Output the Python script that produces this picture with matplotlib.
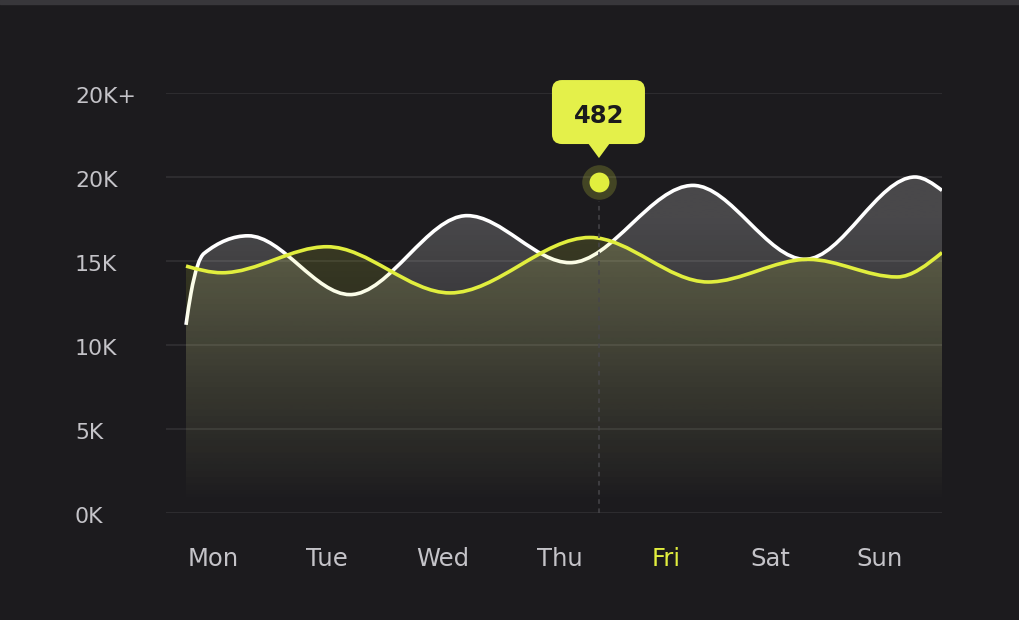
import numpy as np
import matplotlib
matplotlib.use('Agg')
import matplotlib.pyplot as plt
from matplotlib.path import Path
from matplotlib.patches import PathPatch, FancyBboxPatch, Polygon, Rectangle
import matplotlib.transforms as mtransforms

# ---------------- data ----------------
days = ['Mon', 'Tue', 'Wed', 'Thu', 'Fri', 'Sat', 'Sun']
day_pos = [0, 1.025, 2.069, 3.122, 4.076, 5.011, 6.0]
highlight_day = 'Fri'

white_x = [-0.243, -0.198, -0.081, 0.315, 1.232, 2.285, 3.211, 4.318,
           5.325, 6.315, 6.558]
white_y = [11200, 13100, 15450, 16500, 13000, 17700, 14900, 19500,
           15100, 20000, 19200]

yellow_x = [-0.243, 0.081, 1.025, 2.132, 3.391, 4.453, 5.352, 6.153, 6.558]
yellow_y = [14700, 14300, 15850, 13100, 16400, 13750, 15100, 14050, 15500]

y_ticks = [0, 5000, 10000, 15000, 20000, 25000]
y_labels = ['0K', '5K', '10K', '15K', '20K', '20K+']

tip_x = 3.472
tip_y = 19700
tip_text = '482'

# ---------------- style ----------------
BG = '#1c1b1e'
YELLOW = '#e1ee3e'
TIP_YELLOW = '#e4f04a'
LABEL = '#c4c3c8'
plt.rcParams['font.family'] = ['DejaVu Sans']

W, H, DPI = 1020, 620, 100
fig = plt.figure(figsize=(W / DPI, H / DPI), dpi=DPI)
fig.patch.set_facecolor(BG)
fig.add_artist(Rectangle((0, 1 - 4 / H), 1, 4 / H, transform=fig.transFigure,
                         color='#38373b', zorder=0))

ax_l, ax_r, ax_t, ax_b = 166, 942, 93, 513
ax = fig.add_axes([ax_l / W, (H - ax_b) / H, (ax_r - ax_l) / W, (ax_b - ax_t) / H])
ax.set_facecolor('none')
for s in ax.spines.values():
    s.set_visible(False)
ax.set_xticks([])
ax.set_yticks([])
XMIN, XMAX = -0.423, 6.558
YMAX = 25000


def monotone_path(x, y):
    x = np.asarray(x, float)
    y = np.asarray(y, float)
    n = len(x)
    h = np.diff(x)
    s = np.diff(y) / h
    t = np.zeros(n)
    for i in range(1, n - 1):
        p = (s[i - 1] * h[i] + s[i] * h[i - 1]) / (h[i - 1] + h[i])
        t[i] = (np.sign(s[i - 1]) + np.sign(s[i])) * min(abs(s[i - 1]), abs(s[i]), 0.5 * abs(p))
    t[0] = (3 * s[0] - t[1]) / 2
    t[-1] = (3 * s[-1] - t[-2]) / 2
    verts = [(x[0], y[0])]
    codes = [Path.MOVETO]
    for i in range(n - 1):
        dx = h[i] / 3
        verts += [(x[i] + dx, y[i] + dx * t[i]), (x[i + 1] - dx, y[i + 1] - dx * t[i + 1]),
                  (x[i + 1], y[i + 1])]
        codes += [Path.CURVE4] * 3
    return verts, codes


def gradient_fill(verts, codes, rgb, amax, vtop, z):
    fverts = verts + [(verts[-1][0], 0), (verts[0][0], 0), (verts[0][0], 0)]
    fcodes = codes + [Path.LINETO, Path.LINETO, Path.CLOSEPOLY]
    patch = PathPatch(Path(fverts, fcodes), facecolor='none', edgecolor='none')
    ax.add_patch(patch)
    n = 400
    v = np.linspace(0, YMAX, n)
    a = amax * np.clip(v / vtop, 0, 1) ** 1.1
    img = np.zeros((n, 1, 4))
    img[..., :3] = matplotlib.colors.to_rgb(rgb)
    img[..., 0, 3] = a
    im = ax.imshow(img, extent=[XMIN, XMAX, 0, YMAX], origin='lower', aspect='auto',
                   zorder=z, interpolation='bilinear')
    im.set_clip_path(patch)


wv, wc = monotone_path(white_x, white_y)
yv, yc = monotone_path(yellow_x, yellow_y)

gradient_fill(wv, wc, '#ffffff', 0.20, 17500, 1)
for yt in y_ticks:
    ax.axhline(yt, color='#ffffff', alpha=0.10, lw=1.1, zorder=1.5)
ax.add_patch(PathPatch(Path(wv, wc), facecolor='none', edgecolor='#ffffff', lw=2.6,
                       capstyle='butt', zorder=2))
gradient_fill(yv, yc, YELLOW, 0.16, 17500, 3)
ax.add_patch(PathPatch(Path(yv, yc), facecolor='none', edgecolor=YELLOW, lw=2.6,
                       capstyle='butt', zorder=4))

ax.set_xlim(XMIN, XMAX)
ax.set_ylim(0, YMAX)

# dashed guide + highlighted point
ax.plot([tip_x, tip_x], [0, tip_y - 1100], color='#47464a', lw=1.1,
        dashes=(3, 3), zorder=5)
ax.scatter([tip_x], [tip_y], s=620, color=YELLOW, alpha=0.2, lw=0, zorder=6)
ax.scatter([tip_x], [tip_y], s=205, color=YELLOW, lw=0, zorder=7)

# tooltip in pixel offsets from the point
fig.canvas.draw()
px, py = ax.transData.transform((tip_x, tip_y))
ident = mtransforms.IdentityTransform()
box = FancyBboxPatch((px - 47, py + 38), 93, 64, boxstyle='round,pad=0,rounding_size=10',
                     facecolor=TIP_YELLOW, edgecolor='none', transform=ident, zorder=10)
fig.add_artist(box)
tri = Polygon([(px - 11, py + 39), (px + 11, py + 39), (px, py + 24)], closed=True,
              facecolor=TIP_YELLOW, edgecolor='none', transform=ident, zorder=10)
fig.add_artist(tri)
fig.text(px, py + 58.7, tip_text, transform=ident, ha='center', va='baseline',
         fontsize=17.5, fontweight='bold', color='#1b1a1d', zorder=11)

# y labels: left aligned
ytrans = mtransforms.blended_transform_factory(fig.transFigure, ax.transData) + \
    mtransforms.ScaledTranslation(0, -10 / DPI, fig.dpi_scale_trans)
for yt, lab in zip(y_ticks, y_labels):
    fig.text(75 / W, yt, lab, transform=ytrans, ha='left', va='baseline',
             fontsize=15.8, color=LABEL)

# x labels
xtrans = mtransforms.blended_transform_factory(ax.transData, ax.transAxes)
for pos, lab in zip(day_pos, days):
    ax.text(pos, -(566.5 - ax_b) / (ax_b - ax_t), lab, transform=xtrans, ha='center',
            va='baseline', fontsize=17.5,
            color=YELLOW if lab == highlight_day else LABEL, clip_on=False)

fig.savefig('out.png', dpi=DPI, facecolor=BG)
